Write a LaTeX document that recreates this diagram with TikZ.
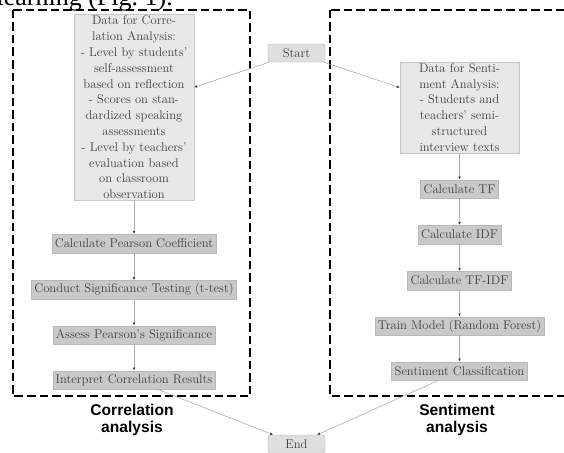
\documentclass[tikz,border=0pt]{standalone}
\usepackage{fontspec}
\newfontfamily\labelfont{Liberation Sans}
\newfontfamily\topfont{Liberation Serif}
\usetikzlibrary{arrows.meta}
\begin{document}
\begin{tikzpicture}[x=1pt,y=-1pt,
  font=\fontsize{12.6}{15.8}\selectfont,
  databox/.style={draw=gray!45, fill=gray!18, text=black!75, align=center, inner xsep=2pt, inner ysep=1.5pt},
  procbox/.style={draw=gray!55, fill=gray!42, text=black!75, inner xsep=3pt, inner ysep=0pt, minimum height=18.5pt},
  termbox/.style={draw=gray!60, fill=gray!25, rounded corners=2.5pt, minimum width=57pt, minimum height=18pt, text=black!75},
  flow/.style={draw=gray!65, line width=0.6pt, -{Latex[length=3pt,width=2.6pt,color=black!80]}},
  group/.style={draw=black, line width=2.8pt, dash pattern=on 8.5pt off 4pt},
  grouplabel/.style={font=\labelfont\bfseries\fontsize{15.6}{17.5}\selectfont, align=center}]
\useasboundingbox (0,0) rectangle (564,452);
\clip (0,0) rectangle (564,452);

\node[font=\topfont\fontsize{26}{30}\selectfont, anchor=base east, inner sep=0pt] (toptext) at (173,6) {learning (Fig.~1).};

\draw[group] (13,10) rectangle (250,396);
\draw[group] (330,10) rectangle (580,396);

\node[termbox] (start) at (296.5,53) {Start};
\node[termbox] (end) at (296.5,444) {End};

\node[databox, text width=116pt] (corrdata) at (134,107.5) {Data for Corre-\\lation Analysis:\\- Level by students'\\self-assessment\\based on reflection\\- Scores on stan-\\dardized speaking\\assessments\\- Level by teachers'\\evaluation based\\on classroom\\observation};
\node[procbox] (pearson) at (134,243.5) {Calculate Pearson Coefficient};
\node[procbox] (ttest) at (134,289.5) {Conduct Significance Testing (t-test)};
\node[procbox] (assess) at (134,335) {Assess Pearson's Significance};
\node[procbox] (interpret) at (134,380) {Interpret Correlation Results};

\node[databox, text width=115pt] (sentdata) at (459.5,107.5) {Data for Senti-\\ment Analysis:\\- Students and\\teachers' semi-\\structured\\interview texts};
\node[procbox] (tf) at (459.5,189) {Calculate TF};
\node[procbox] (idf) at (459.5,234.5) {Calculate IDF};
\node[procbox] (tfidf) at (459.5,280.5) {Calculate TF-IDF};
\node[procbox] (train) at (459.5,326) {Train Model (Random Forest)};
\node[procbox] (sentc) at (459.5,371) {Sentiment Classification};

\node[grouplabel] (corrlabel) at (132,420) {Correlation\\analysis};
\node[grouplabel] (sentlabel) at (457,420) {Sentiment\\analysis};

\draw[flow] (start) -- (corrdata);
\draw[flow] (start) -- (sentdata);
\draw[flow] (corrdata) -- (pearson);
\draw[flow] (pearson) -- (ttest);
\draw[flow] (ttest) -- (assess);
\draw[flow] (assess) -- (interpret);
\draw[flow] (interpret) -- (end);
\draw[flow] (sentdata) -- (tf);
\draw[flow] (tf) -- (idf);
\draw[flow] (idf) -- (tfidf);
\draw[flow] (tfidf) -- (train);
\draw[flow] (train) -- (sentc);
\draw[flow] (sentc) -- (end);
\end{tikzpicture}
\end{document}
